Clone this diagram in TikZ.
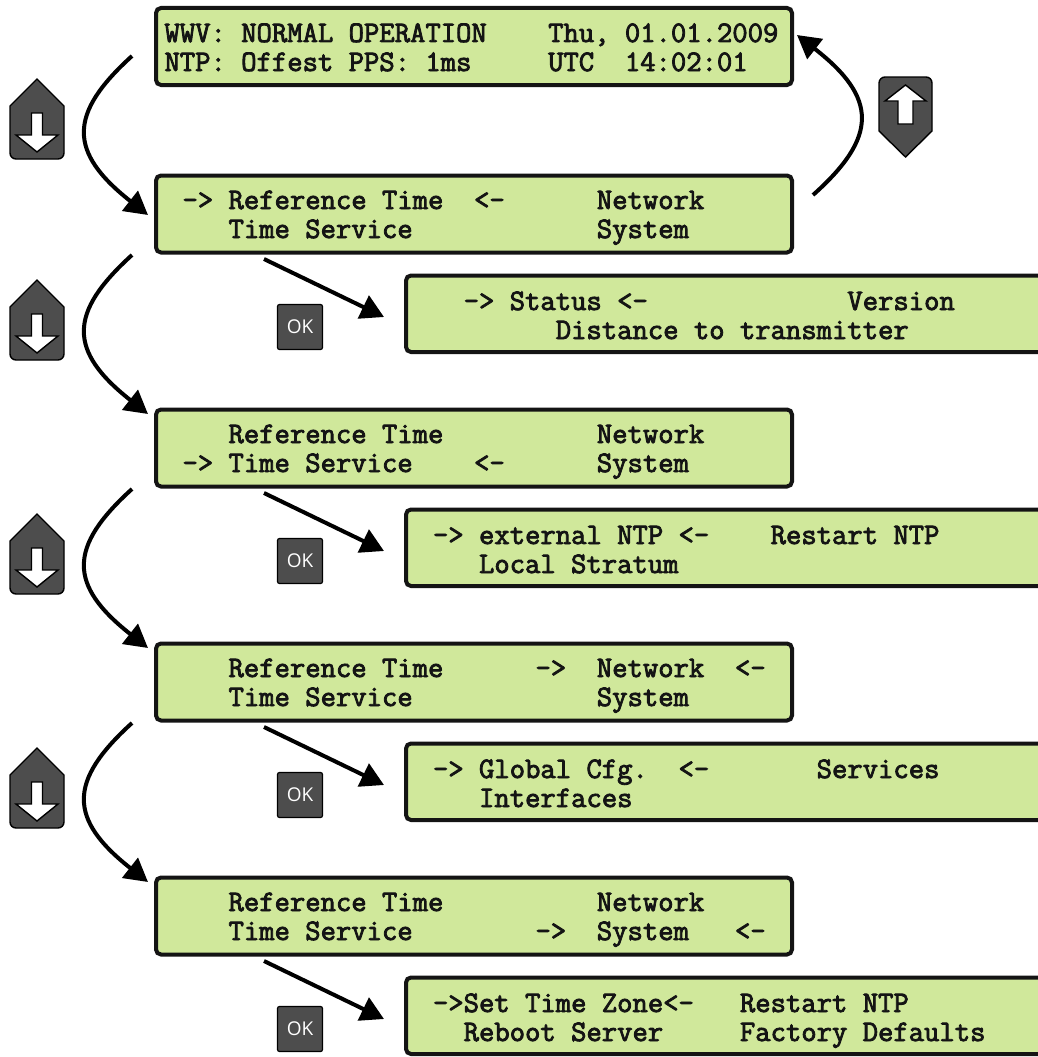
\documentclass[tikz,border=0pt]{standalone}
\usepackage{fontspec}
\setmainfont{Open Sans}
\newfontfamily\lcdfont{Latin Modern Mono}[UprightFeatures={FakeBold=2.8}]
\usetikzlibrary{arrows.meta}
\definecolor{lcd}{HTML}{D0E89B}
\definecolor{btn}{HTML}{4D4D4D}
\tikzset{
  x=1pt,y=-1pt,
  lcdbox/.style={draw=black!92,line width=4pt,fill=lcd,rounded corners=5pt},
  lcdtext/.style={anchor=base west,inner sep=0pt,outer sep=0pt,font=\lcdfont\fontsize{29.8}{29.8}\selectfont,text=black!92},
  flow/.style={draw=black,line width=4pt,-{Triangle[length=23pt,width=25pt]}},
  btnshape/.style={draw=black,line width=1.4pt,fill=btn},
  arrowshape/.style={draw=black,line width=1.4pt,fill=white,line join=miter},
  okbox/.style={draw=black,line width=1.2pt,fill=btn,rounded corners=2pt,minimum width=45pt,minimum height=45pt,inner sep=0pt,text=white,font=\fontsize{19}{19}\selectfont},
}
\newcommand{\lcdline}[4]{\node[lcdtext] (#1) at (#2,#3) {#4};}
\newcommand{\downbtn}[2]{%
  \begin{scope}[shift={(#1,#2)}]
    \path[btnshape] (0,0) -- (27,27) [rounded corners=6pt] -- (27,80) -- (-27,80) [sharp corners] -- (-27,27) -- cycle;
    \path[arrowshape] (-5.5,34) -- (5.5,34) -- (5.5,56) -- (21,56) -- (0,73) -- (-21,56) -- (-5.5,56) -- cycle;
  \end{scope}}
\begin{document}
\begin{tikzpicture}
\useasboundingbox (0,0) rectangle (1038,1057);
\fill[white] (0,0) rectangle (1038,1057);
% main boxes
\foreach \y in {8,175.5,409.5,643.5,877.5}{
  \path[lcdbox] (156,\y) rectangle (792,\y+77);
}
% sub boxes
\foreach \y in {275.5,509.5,743.5,977.5}{
  \path[lcdbox] (406,\y) rectangle (1060,\y+76.5);
}
% texts
\lcdline{a1}{164.5}{42}{WWV:~NORMAL~OPERATION~~~~Thu,~01.01.2009}
\lcdline{a2}{164.5}{71}{NTP:~Offest~PPS:~1ms~~~~~UTC~~14:02:01}
\lcdline{b1}{182.5}{209}{->~Reference~Time~~<-~~~~~~Network}
\lcdline{b2}{182.5}{238}{~~~Time~Service~~~~~~~~~~~~System}
\lcdline{c1}{182.5}{443}{~~~Reference~Time~~~~~~~~~~Network}
\lcdline{c2}{182.5}{472}{->~Time~Service~~~~<-~~~~~~System}
\lcdline{d1}{182.5}{677}{~~~Reference~Time~~~~~~->~~Network~~<-}
\lcdline{d2}{182.5}{706}{~~~Time~Service~~~~~~~~~~~~System}
\lcdline{e1}{182.5}{911}{~~~Reference~Time~~~~~~~~~~Network}
\lcdline{e2}{182.5}{940}{~~~Time~Service~~~~~~~~->~~System~~~<-}
\lcdline{f1}{433}{310}{~~->~Status~<-~~~~~~~~~~~~~Version}
\lcdline{f2}{433}{339}{~~~~~~~~Distance~to~transmitter}
\lcdline{g1}{433}{544}{->~external~NTP~<-~~~~Restart~NTP}
\lcdline{g2}{433}{573}{~~~Local~Stratum}
\lcdline{h1}{433}{778}{->~Global~Cfg.~~<-~~~~~~~Services}
\lcdline{h2}{433}{807}{~~~Interfaces}
\lcdline{i1}{433}{1012}{->Set~Time~Zone<-~~~Restart~NTP}
\lcdline{i2}{433}{1041}{~~Reboot~Server~~~~~Factory~Defaults}
% flow coordinates
\foreach \y [count=\i] in {0,199,433,667}{
  \coordinate (s\i) at (132,\y+56);
  \coordinate (t\i) at (148,\y+215);
}
\foreach \i in {1,2,3,4}{
  \draw[flow] (s\i) .. controls +(-64,58) and +(-80,-63) .. (t\i);
}
\coordinate (us) at (813,195);
\coordinate (ut) at (797,35);
\draw[flow] (us) .. controls +(65,-58) and +(81,63) .. (ut);
% ok lines
\foreach \y/\n in {259/1,493/2,727/3,961/4}{
  \coordinate (os\n) at (264,\y);
  \coordinate (ot\n) at (384,\y+58);
  \draw[flow] (os\n) -- (ot\n);
}
% buttons
\downbtn{37}{79}
\downbtn{37}{280}
\downbtn{37}{514}
\downbtn{37}{748}
\path[btnshape] (905.5,157) -- (932,131) [rounded corners=6pt] -- (932,77) -- (879,77) [sharp corners] -- (879,131) -- cycle;
\path[arrowshape] (898,124) -- (913,124) -- (913,101) -- (926,101) -- (905.5,85) -- (885,101) -- (898,101) -- cycle;
\foreach \y/\n in {327/1,561/2,795/3,1029/4}{
  \node[okbox] (ok\n) at (300,\y) {OK};
}
\end{tikzpicture}
\end{document}
